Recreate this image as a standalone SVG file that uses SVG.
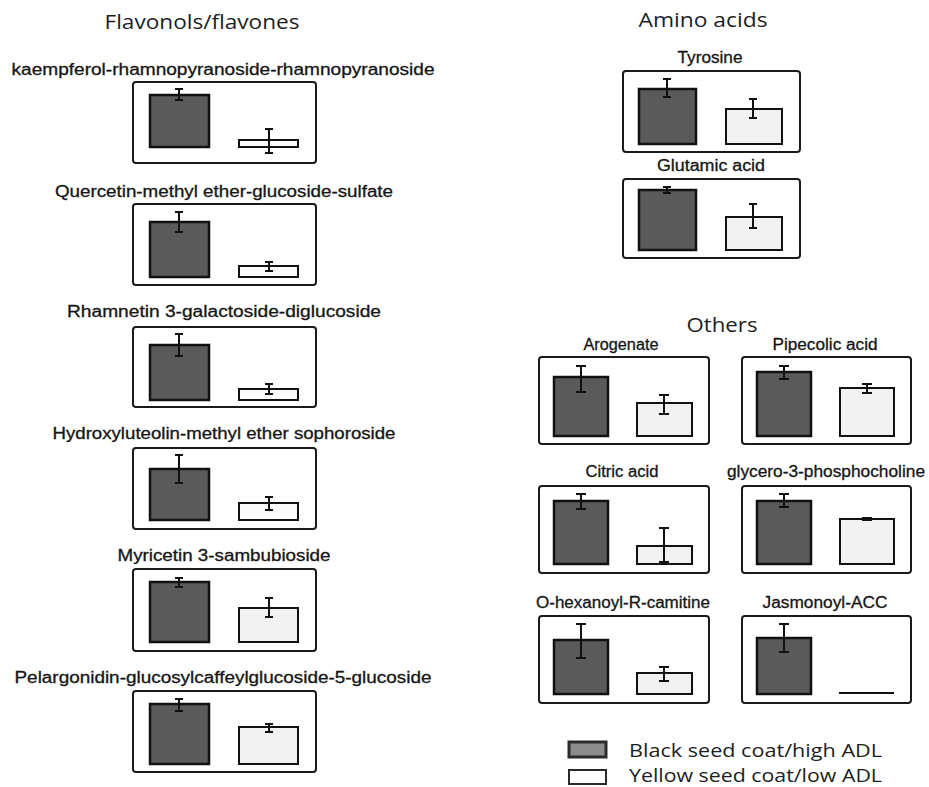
<svg xmlns="http://www.w3.org/2000/svg" width="929" height="787" viewBox="0 0 929 787">
<style>
.bg{fill:#ffffff}
.panel{fill:#ffffff;stroke:#1a1a1a;stroke-width:2}
.dark{fill:#5a5a5a;stroke:#111;stroke-width:2.5}
.light{fill:#f1f1f1;stroke:#111;stroke-width:2}
.lightw{fill:#fbfbfb;stroke:#111;stroke-width:2}
.err{fill:none;stroke:#111;stroke-width:2}
.lbl{font-family:"Liberation Sans",Arial,sans-serif;font-size:16px;fill:#161616;stroke:#161616;stroke-width:0.3;text-anchor:middle}
.title{font-family:"Open Sans","Liberation Sans",sans-serif;font-size:20px;fill:#1e1e1e;text-anchor:middle}
.leg{font-family:"Open Sans","Liberation Sans",sans-serif;font-size:19px;fill:#1e1e1e}
</style>
<rect class="bg" x="0" y="0" width="929" height="787"/>

<text class="title" x="202" y="29" textLength="195" lengthAdjust="spacingAndGlyphs">Flavonols/flavones</text>
<text class="title" x="703" y="27" textLength="129" lengthAdjust="spacingAndGlyphs">Amino acids</text>
<text class="title" x="722" y="332" textLength="71" lengthAdjust="spacingAndGlyphs">Others</text>

<g id="kaempferol">
<text class="lbl" x="223" y="75" textLength="423" lengthAdjust="spacingAndGlyphs">kaempferol-rhamnopyranoside-rhamnopyranoside</text>
<rect class="panel" x="133" y="82" width="183" height="81" rx="3"/>
<rect class="dark" x="150" y="95" width="59" height="52"/>
<path class="err" d="M179 89V100M175 89H183M175 100H183"/>
<rect class="lightw" x="239" y="140" width="59" height="7"/>
<path class="err" d="M269 129V153M265 129H273M265 153H273"/>
</g>

<g id="quercetin">
<text class="lbl" x="224" y="197" textLength="338" lengthAdjust="spacingAndGlyphs">Quercetin-methyl ether-glucoside-sulfate</text>
<rect class="panel" x="133" y="204" width="183" height="81" rx="3"/>
<rect class="dark" x="150" y="222" width="59" height="55"/>
<path class="err" d="M179 212V232M175 212H183M175 232H183"/>
<rect class="lightw" x="239" y="266" width="59" height="11"/>
<path class="err" d="M269 262V271M265 262H273M265 271H273"/>
</g>

<g id="rhamnetin">
<text class="lbl" x="224" y="317" textLength="314" lengthAdjust="spacingAndGlyphs">Rhamnetin 3-galactoside-diglucoside</text>
<rect class="panel" x="133" y="327" width="183" height="80" rx="3"/>
<rect class="dark" x="150" y="345" width="59" height="55"/>
<path class="err" d="M179 334V356M175 334H183M175 356H183"/>
<rect class="lightw" x="239" y="389" width="59" height="11"/>
<path class="err" d="M269 384V394M265 384H273M265 394H273"/>
</g>

<g id="hydroxyluteolin">
<text class="lbl" x="224" y="439" textLength="343" lengthAdjust="spacingAndGlyphs">Hydroxyluteolin-methyl ether sophoroside</text>
<rect class="panel" x="133" y="448" width="183" height="81" rx="3"/>
<rect class="dark" x="150" y="469" width="59" height="51"/>
<path class="err" d="M179 455V483M175 455H183M175 483H183"/>
<rect class="lightw" x="239" y="503" width="59" height="17"/>
<path class="err" d="M269 497V510M265 497H273M265 510H273"/>
</g>

<g id="myricetin">
<text class="lbl" x="224" y="561" textLength="213" lengthAdjust="spacingAndGlyphs">Myricetin 3-sambubioside</text>
<rect class="panel" x="133" y="569" width="183" height="82" rx="3"/>
<rect class="dark" x="150" y="582" width="59" height="60"/>
<path class="err" d="M179 578V587M175 578H183M175 587H183"/>
<rect class="light" x="239" y="608" width="59" height="34"/>
<path class="err" d="M269 598V617M265 598H273M265 617H273"/>
</g>

<g id="pelargonidin">
<text class="lbl" x="223" y="683" textLength="417" lengthAdjust="spacingAndGlyphs">Pelargonidin-glucosylcaffeylglucoside-5-glucoside</text>
<rect class="panel" x="133" y="691" width="183" height="81" rx="3"/>
<rect class="dark" x="150" y="704" width="59" height="60"/>
<path class="err" d="M179 699V711M175 699H183M175 711H183"/>
<rect class="light" x="239" y="727" width="59" height="37"/>
<path class="err" d="M269 724V732M265 724H273M265 732H273"/>
</g>

<g id="tyrosine">
<text class="lbl" x="710" y="63" textLength="65" lengthAdjust="spacingAndGlyphs">Tyrosine</text>
<rect class="panel" x="623" y="71" width="177" height="81" rx="3"/>
<rect class="dark" x="639" y="89" width="57" height="55"/>
<path class="err" d="M667 79V97M663 79H671M663 97H671"/>
<rect class="light" x="726" y="109" width="56" height="35"/>
<path class="err" d="M753 99V118M749 99H757M749 118H757"/>
</g>

<g id="glutamic">
<text class="lbl" x="711" y="171" textLength="108" lengthAdjust="spacingAndGlyphs">Glutamic acid</text>
<rect class="panel" x="623" y="179" width="177" height="79" rx="3"/>
<rect class="dark" x="639" y="190" width="57" height="60"/>
<path class="err" d="M667 187V193M663 187H671M663 193H671"/>
<rect class="light" x="726" y="217" width="56" height="33"/>
<path class="err" d="M753 204V228M749 204H757M749 228H757"/>
</g>

<g id="arogenate">
<text class="lbl" x="621" y="350" textLength="75" lengthAdjust="spacingAndGlyphs">Arogenate</text>
<rect class="panel" x="539" y="357" width="170" height="87" rx="3"/>
<rect class="dark" x="554" y="377" width="54" height="59"/>
<path class="err" d="M581 366V392M576 366H586M576 392H586"/>
<rect class="light" x="637" y="403" width="55" height="33"/>
<path class="err" d="M664 395V414M659 395H669M659 414H669"/>
</g>

<g id="pipecolic">
<text class="lbl" x="825" y="350" textLength="105" lengthAdjust="spacingAndGlyphs">Pipecolic acid</text>
<rect class="panel" x="742" y="357" width="169" height="87" rx="3"/>
<rect class="dark" x="757" y="372" width="54" height="64"/>
<path class="err" d="M784 366V379M779 366H789M779 379H789"/>
<rect class="light" x="840" y="388" width="54" height="48"/>
<path class="err" d="M867 384V393M862 384H872M862 393H872"/>
</g>

<g id="citric">
<text class="lbl" x="622" y="477" textLength="73" lengthAdjust="spacingAndGlyphs">Citric acid</text>
<rect class="panel" x="539" y="486" width="170" height="87" rx="3"/>
<rect class="dark" x="554" y="501" width="54" height="63"/>
<path class="err" d="M581 494V509M576 494H586M576 509H586"/>
<rect class="light" x="637" y="546" width="55" height="18"/>
<path class="err" d="M664 528V562M659 528H669M659 562H669"/>
</g>

<g id="glycero">
<text class="lbl" x="826" y="477" textLength="198" lengthAdjust="spacingAndGlyphs">glycero-3-phosphocholine</text>
<rect class="panel" x="742" y="486" width="169" height="87" rx="3"/>
<rect class="dark" x="757" y="501" width="54" height="63"/>
<path class="err" d="M784 494V507M779 494H789M779 507H789"/>
<rect class="light" x="840" y="519" width="54" height="45"/>
<path class="err" d="M867 518V520M862 518H872M862 520H872"/>
</g>

<g id="hexanoyl">
<text class="lbl" x="623" y="608" textLength="174" lengthAdjust="spacingAndGlyphs">O-hexanoyl-R-camitine</text>
<rect class="panel" x="539" y="616" width="170" height="87" rx="3"/>
<rect class="dark" x="554" y="640" width="54" height="54"/>
<path class="err" d="M581 624V658M576 624H586M576 658H586"/>
<rect class="light" x="637" y="673" width="55" height="21"/>
<path class="err" d="M664 667V681M659 667H669M659 681H669"/>
</g>

<g id="jasmonoyl">
<text class="lbl" x="825" y="608" textLength="125" lengthAdjust="spacingAndGlyphs">Jasmonoyl-ACC</text>
<rect class="panel" x="742" y="616" width="169" height="87" rx="3"/>
<rect class="dark" x="757" y="638" width="54" height="56"/>
<path class="err" d="M784 624V652M779 624H789M779 652H789"/>
<path class="err" d="M839 693H894"/>
</g>

<g id="legend">
<rect x="569" y="742" width="37" height="15" fill="#8c8c8c" stroke="#2a2a2a" stroke-width="3"/>
<text class="leg" x="629" y="757" textLength="253" lengthAdjust="spacingAndGlyphs">Black seed coat/high ADL</text>
<rect x="569" y="770" width="37" height="14" fill="#ffffff" stroke="#2a2a2a" stroke-width="2"/>
<text class="leg" x="629" y="782" textLength="253" lengthAdjust="spacingAndGlyphs">Yellow seed coat/low ADL</text>
</g>
</svg>
